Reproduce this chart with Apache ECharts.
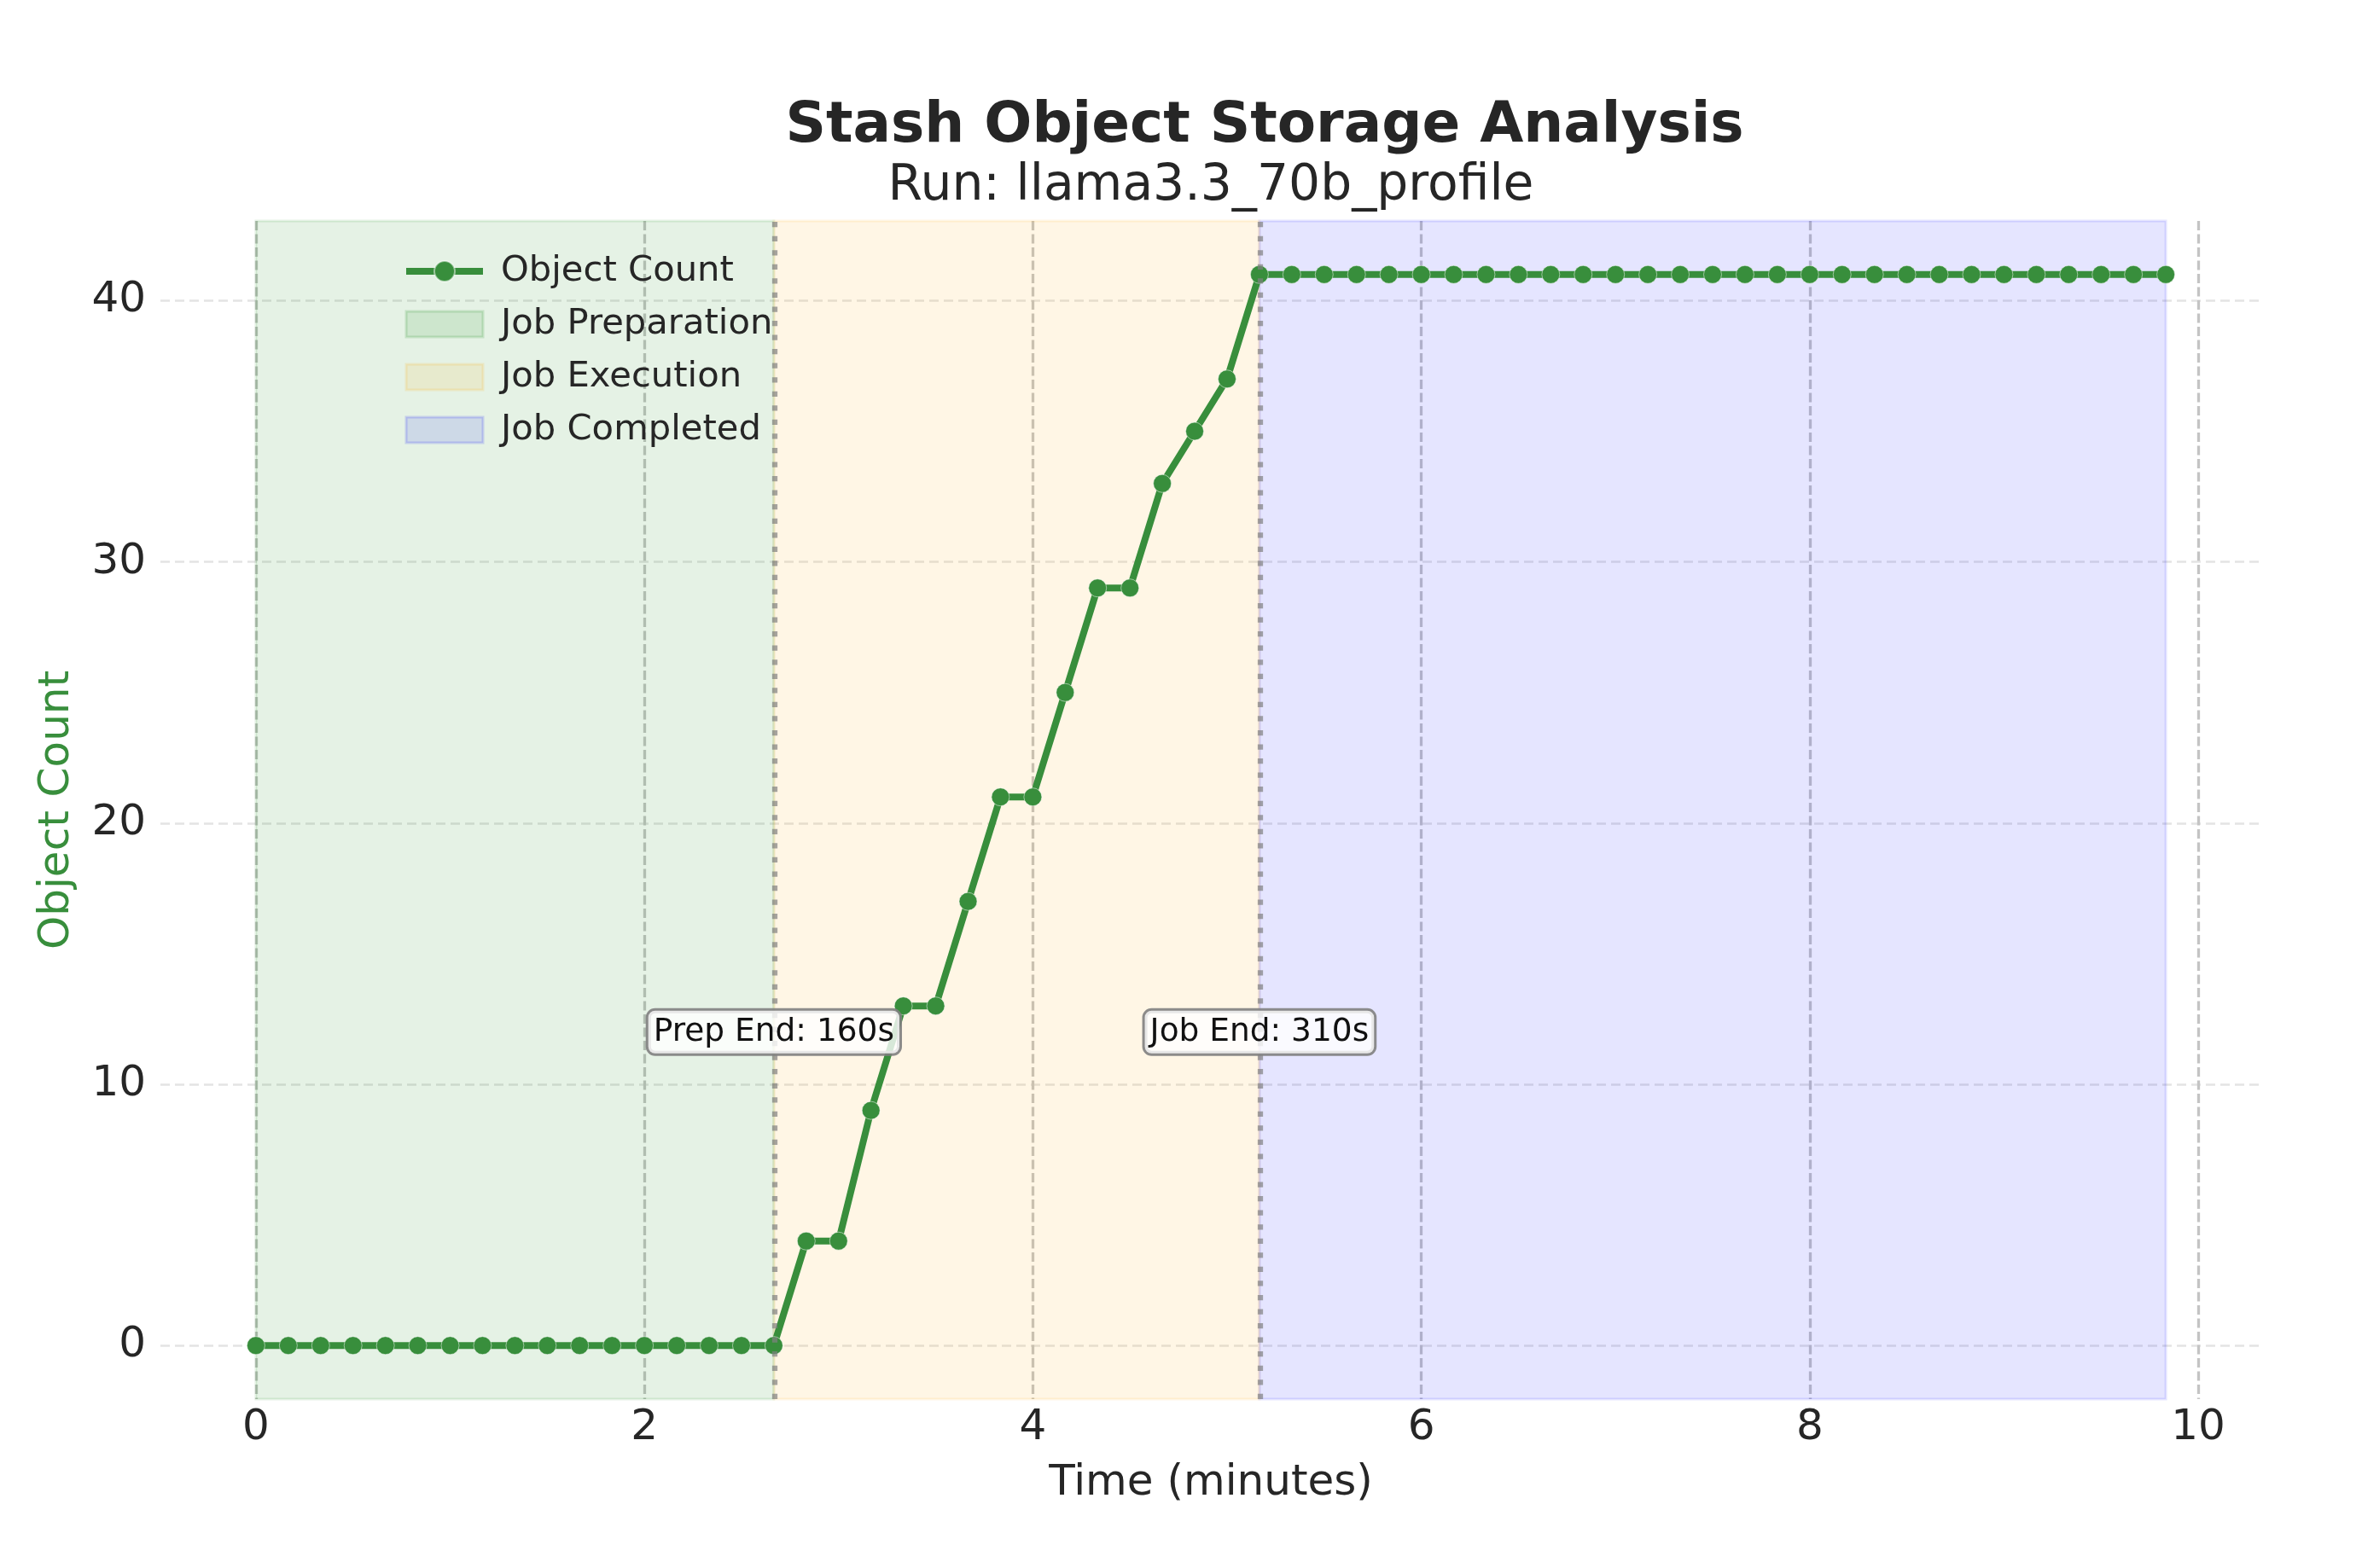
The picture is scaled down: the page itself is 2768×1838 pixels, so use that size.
<!DOCTYPE html>
<html>
<head>
<meta charset="utf-8">
<title>Stash Object Storage Analysis</title>
<script src="https://cdn.jsdelivr.net/npm/echarts@6/dist/echarts.min.js"></script>
<style>
  html, body { margin: 0; padding: 0; background: #ffffff; }
  #chart { width: 2768px; height: 1838px; }
</style>
</head>
<body>
<div id="chart"></div>
<script>
// sample times (seconds) and stash object counts
var timeSec = [0, 10, 20, 30, 40, 50, 60, 70, 80, 90,
    100, 110, 120, 130, 140, 150, 160, 170, 180, 190,
    200, 210, 220, 230, 240, 250, 260, 270, 280, 290,
    300, 310, 320, 330, 340, 350, 360, 370, 380, 390,
    400, 410, 420, 430, 440, 450, 460, 470, 480, 490,
    500, 510, 520, 530, 540, 550, 560, 570, 580, 590];
var objCount = [0, 0, 0, 0, 0, 0, 0, 0, 0, 0,
    0, 0, 0, 0, 0, 0, 0, 4, 4, 9,
    13, 13, 17, 21, 21, 25, 29, 29, 33, 35,
    37, 41, 41, 41, 41, 41, 41, 41, 41, 41,
    41, 41, 41, 41, 41, 41, 41, 41, 41, 41,
    41, 41, 41, 41, 41, 41, 41, 41, 41, 41];

// phase boundaries (seconds)
var prepEnd = 160;
var jobEnd = 310;
var runEnd = 590;

// tick labels
var xTicks = [0, 2, 4, 6, 8, 10];
var yTicks = [0, 10, 20, 30, 40];

// annotation labels
var markNames = ['Prep End: 160s', 'Job End: 310s'];
var markTimes = [prepEnd, jobEnd];
var markY = 12.0;

var FONT = 'DejaVu Sans';
var LINE_GREEN = '#388E3C';

function drawChart() {
    var dom = document.getElementById('chart');
    var myChart = echarts.init(dom, null, { renderer: 'canvas', devicePixelRatio: 1 });

    var lineData = [];
    for (var i = 0; i < timeSec.length; i++) {
        lineData.push([timeSec[i] / 60, objCount[i]]);
    }

    var labelPoints = [];
    for (var k = 0; k < markNames.length; k++) {
        labelPoints.push({
            coord: [markTimes[k] / 60, markY],
            label: { formatter: markNames[k] }
        });
    }

    var option = {
        backgroundColor: '#ffffff',
        animation: false,
        textStyle: { fontFamily: FONT },
        graphic: [
            {
                type: 'text', x: 1482, y: 149,
                style: {
                    text: 'Stash Object Storage Analysis',
                    font: 'bold 66px "DejaVu Sans"',
                    fill: '#262626', align: 'center', verticalAlign: 'middle'
                }
            },
            {
                type: 'text', x: 1419, y: 219,
                style: {
                    text: 'Run: llama3.3_70b_profile',
                    font: '58.3px "DejaVu Sans"',
                    fill: '#262626', align: 'center', verticalAlign: 'middle'
                }
            }
        ],
        legend: {
            orient: 'vertical',
            left: 467,
            top: 292,
            itemWidth: 90,
            itemHeight: 30,
            itemGap: 20,
            textStyle: { fontFamily: FONT, fontSize: 41.7, color: '#262626', padding: [0, 0, 0, 16] },
            data: [
                { name: 'Object Count', lineStyle: { width: 8, color: LINE_GREEN } },
                { name: 'Job Preparation', icon: 'rect',
                  itemStyle: { color: 'rgba(0,128,0,0.1)', borderColor: 'rgba(0,128,0,0.15)', borderWidth: 3 } },
                { name: 'Job Execution', icon: 'rect',
                  itemStyle: { color: 'rgba(255,165,0,0.1)', borderColor: 'rgba(255,165,0,0.15)', borderWidth: 3 } },
                { name: 'Job Completed', icon: 'rect',
                  itemStyle: { color: 'rgba(0,0,255,0.1)', borderColor: 'rgba(0,0,255,0.15)', borderWidth: 3 } }
            ]
        },
        grid: {
            left: 188,
            right: 118,
            top: 259,
            bottom: 198,
            containLabel: false
        },
        xAxis: {
            type: 'value',
            min: -0.4917,
            max: 10.325,
            name: 'Time (minutes)',
            nameLocation: 'middle',
            nameGap: 74,
            nameTextStyle: { fontFamily: FONT, fontSize: 50, color: '#262626' },
            axisLine: { show: false },
            axisTick: { show: false, customValues: xTicks },
            axisLabel: {
                customValues: xTicks,
                margin: 9,
                fontFamily: FONT, fontSize: 50, color: '#262626'
            },
            splitLine: {
                show: true,
                lineStyle: { color: '#c4c4c4', width: 3.3, type: [11, 4.5] }
            }
        },
        yAxis: {
            type: 'value',
            min: -2.05,
            max: 43.05,
            name: 'Object Count',
            nameLocation: 'middle',
            nameGap: 96,
            nameTextStyle: { fontFamily: FONT, fontSize: 50, color: LINE_GREEN },
            axisLine: { show: false },
            axisTick: { show: false, customValues: yTicks },
            axisLabel: {
                customValues: yTicks,
                margin: 17,
                fontFamily: FONT, fontSize: 50, color: '#262626'
            },
            splitLine: {
                show: true,
                lineStyle: { color: '#e4e4e4', width: 2.5, type: [11, 6] }
            }
        },
        series: [
            {
                name: 'Job Preparation',
                type: 'line',
                data: [],
                silent: true,
                itemStyle: { color: 'rgba(0,128,0,0.1)' },
                markArea: {
                    silent: true,
                    itemStyle: { color: 'rgba(0,128,0,0.1)', borderColor: 'rgba(0,128,0,0.1)', borderWidth: 3 },
                    data: [[{ xAxis: 0 }, { xAxis: prepEnd / 60 }]]
                }
            },
            {
                name: 'Job Execution',
                type: 'line',
                data: [],
                silent: true,
                itemStyle: { color: 'rgba(255,165,0,0.1)' },
                markArea: {
                    silent: true,
                    itemStyle: { color: 'rgba(255,165,0,0.1)', borderColor: 'rgba(255,165,0,0.1)', borderWidth: 3 },
                    data: [[{ xAxis: prepEnd / 60 }, { xAxis: jobEnd / 60 }]]
                }
            },
            {
                name: 'Job Completed',
                type: 'line',
                data: [],
                silent: true,
                itemStyle: { color: 'rgba(0,0,255,0.1)' },
                markArea: {
                    silent: true,
                    itemStyle: { color: 'rgba(0,0,255,0.1)', borderColor: 'rgba(0,0,255,0.1)', borderWidth: 3 },
                    data: [[{ xAxis: jobEnd / 60 }, { xAxis: runEnd / 60 }]]
                }
            },
            {
                // phase boundary lines
                name: 'boundaries',
                type: 'line',
                data: [],
                silent: true,
                z: 2,
                markLine: {
                    silent: true,
                    symbol: 'none',
                    label: { show: false },
                    lineStyle: { color: 'rgba(128,128,128,0.7)', width: 6.25, type: [6.25, 10.3], cap: 'butt' },
                    data: [{ xAxis: prepEnd / 60 }, { xAxis: jobEnd / 60 }]
                }
            },
            {
                name: 'Object Count',
                type: 'line',
                data: lineData,
                z: 3,
                symbol: 'circle',
                symbolSize: 21,
                showSymbol: true,
                clip: false,
                color: LINE_GREEN,
                lineStyle: { color: LINE_GREEN, width: 8 },
                itemStyle: { color: LINE_GREEN, borderColor: 'rgba(255,255,255,0.5)', borderWidth: 1 },
                emphasis: { disabled: true }
            },
            {
                // text boxes at the phase boundaries
                name: 'labels',
                type: 'line',
                data: [],
                silent: true,
                z: 5,
                markPoint: {
                    silent: true,
                    symbol: 'rect',
                    symbolSize: 1,
                    itemStyle: { color: 'rgba(0,0,0,0)' },
                    label: {
                        show: true,
                        position: 'inside',
                        fontFamily: FONT,
                        fontSize: 37.5,
                        lineHeight: 40,
                        color: '#111111',
                        backgroundColor: 'rgba(255,255,255,0.8)',
                        borderColor: 'rgba(128,128,128,0.9)',
                        borderWidth: 3,
                        borderRadius: 8,
                        padding: [5, 6, 5, 6]
                    },
                    data: labelPoints
                }
            }
        ]
    };

    myChart.setOption(option, true);
}

drawChart();
</script>
</body>
</html>
